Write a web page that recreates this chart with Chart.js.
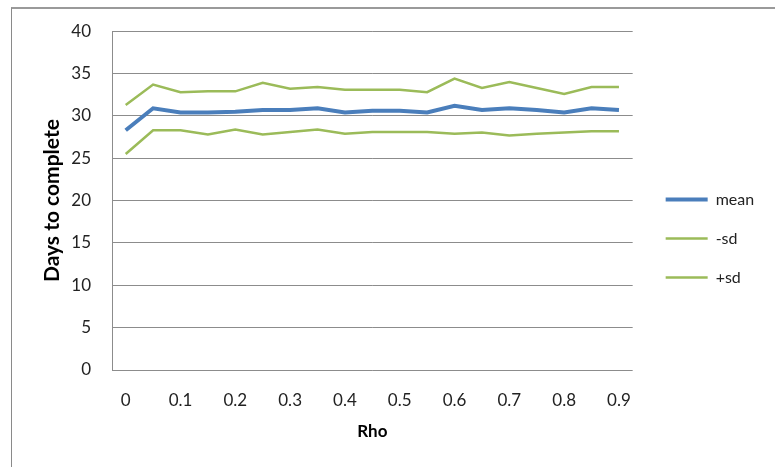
<!DOCTYPE html>
<html><head><meta charset="utf-8">
<script src="https://cdn.jsdelivr.net/npm/chart.js@4"></script>
<style>
html,body{margin:0;padding:0;background:#fff;}
#wrap{position:relative;width:775px;height:467px;overflow:hidden;background:#fff;}
#frame{position:absolute;left:11px;top:7px;width:800px;height:500px;border-left:1px solid #8a8a8a;border-top:2px solid #9a9a9a;box-sizing:border-box;}
canvas{position:absolute;left:0;top:0;}
</style></head><body>
<div id="wrap"><div id="frame"></div><canvas id="c" width="775" height="467"></canvas></div>
<script>
// Categories (Rho)
const rho = ['0','0.05','0.1','0.15','0.2','0.25','0.3','0.35','0.4','0.45','0.5','0.55','0.6','0.65','0.7','0.75','0.8','0.85','0.9'];
// Series values (Days to complete)
const meanValues  = [28.3,30.9,30.4,30.4,30.5,30.7,30.7,30.9,30.4,30.6,30.6,30.4,31.2,30.7,30.9,30.7,30.4,30.9,30.7];
const minusSdValues = [25.5,28.3,28.3,27.8,28.4,27.8,28.1,28.4,27.9,28.1,28.1,28.1,27.9,28.05,27.7,27.9,28.05,28.2,28.2];
const plusSdValues  = [31.3,33.7,32.8,32.9,32.9,33.9,33.2,33.4,33.1,33.1,33.1,32.8,34.4,33.3,34.0,33.3,32.6,33.4,33.4];
// Tick labels
const yTicks = [0,5,10,15,20,25,30,35,40];
const xTickLabels = ['0','0.1','0.2','0.3','0.4','0.5','0.6','0.7','0.8','0.9'];

const gridGray = '#8c8c8c';
const tickFont = {family:'Lato, "Open Sans", sans-serif', size:17};
const legendFont = {family:'Lato, "Open Sans", sans-serif', size:16};
const xTitleFont = {family:'Lato, "Open Sans", sans-serif', size:17, weight:'bold'};
const yTitleFont = {family:'Lato, "Open Sans", sans-serif', size:21, weight:'bold'};

new Chart(document.getElementById('c'), {
  type:'line',
  data:{
    labels: rho,
    datasets:[
      {label:'mean', data:meanValues, borderColor:'#4a7ebb', backgroundColor:'#4a7ebb', borderWidth:4, pointRadius:0, pointStyle:'line', tension:0},
      {label:'-sd', data:minusSdValues, borderColor:'#9bbb59', backgroundColor:'#9bbb59', borderWidth:2.5, pointRadius:0, pointStyle:'line', tension:0},
      {label:'+sd', data:plusSdValues, borderColor:'#9bbb59', backgroundColor:'#9bbb59', borderWidth:2.5, pointRadius:0, pointStyle:'line', tension:0}
    ]
  },
  options:{
    responsive:false,
    animation:false,
    layout:{padding:{left:36, top:31, bottom:21, right:11}},
    plugins:{
      tooltip:{enabled:false},
      legend:{
        position:'right',
        align:'center',
        labels:{usePointStyle:true, pointStyleWidth:42, padding:23, color:'#222', font:legendFont}
      }
    },
    scales:{
      x:{
        type:'category',
        offset:true,
        grid:{display:false},
        border:{display:false},
        ticks:{autoSkip:false, maxRotation:0, padding:12, color:'#222', font:tickFont,
          callback:function(v, i){ return i % 2 === 0 ? xTickLabels[i/2] : ''; }},
        title:{display:true, text:'Rho', color:'#000', font:xTitleFont, padding:{top:4,bottom:4}},
        afterFit:function(s){ s.height = 76; }
      },
      y:{
        min:0, max:40,
        afterBuildTicks:function(s){ s.ticks = yTicks.map(v=>({value:v})); },
        grid:{color:gridGray, lineWidth:1, drawTicks:false},
        border:{display:true, color:gridGray, width:1},
        ticks:{padding:21, color:'#222', font:tickFont},
        title:{display:true, text:'Days to complete', color:'#000', font:yTitleFont, padding:{top:4,bottom:4}},
        afterFit:function(s){ s.width = 76; }
      },
      yRight:{
        position:'right', display:true,
        grid:{display:false, drawTicks:false}, border:{display:false},
        ticks:{display:false},
        afterFit:function(s){ s.width = 10; }
      }
    }
  }
});
</script>
</body></html>
